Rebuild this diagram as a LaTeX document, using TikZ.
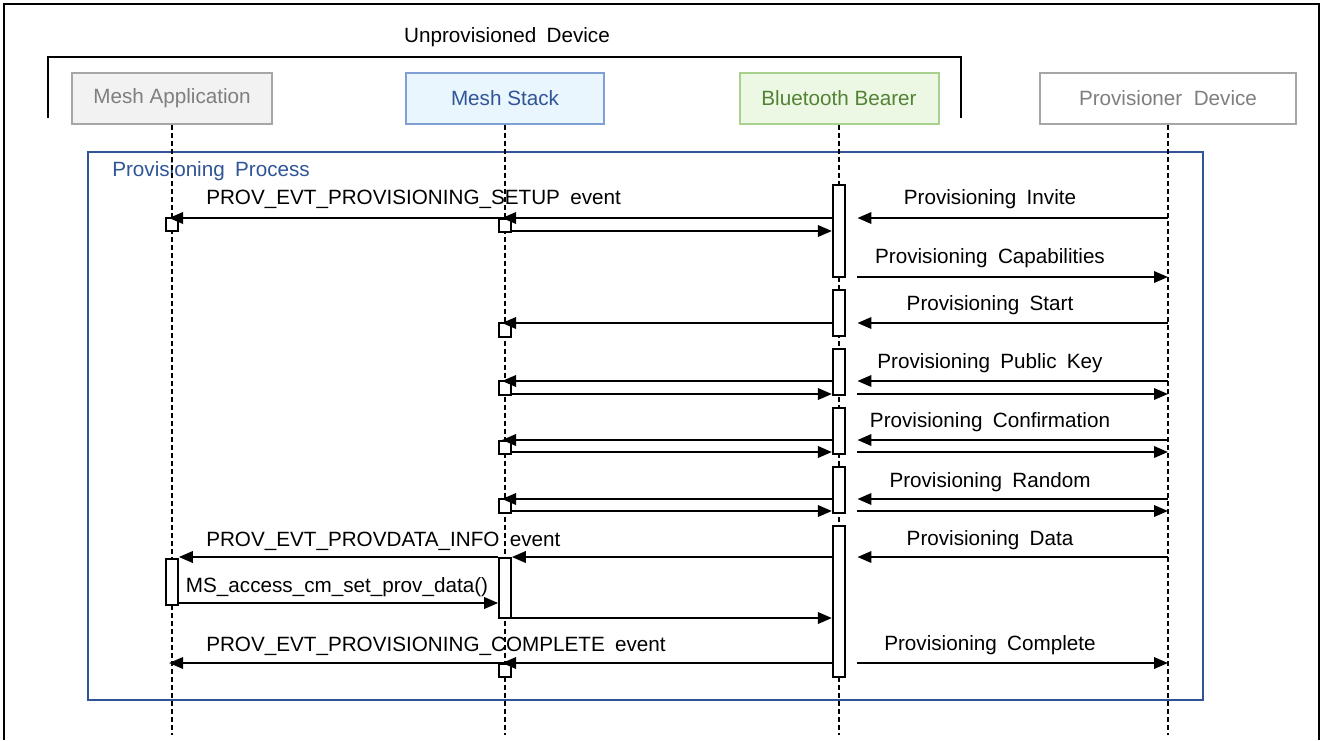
\documentclass[tikz,border=0pt]{standalone}
\usepackage{fontspec}
\setmainfont{Liberation Sans}[WordSpace=1.8]
\newfontfamily\headfont{Liberation Sans}
\usetikzlibrary{arrows.meta}
\definecolor{appfill}{HTML}{F2F2F2}
\definecolor{appdraw}{HTML}{A6A6A6}
\definecolor{apptext}{HTML}{7F7F7F}
\definecolor{stkfill}{HTML}{EAF6FE}
\definecolor{stkdraw}{HTML}{7F9FD5}
\definecolor{stktext}{HTML}{2F5597}
\definecolor{brfill}{HTML}{ECF8E4}
\definecolor{brdraw}{HTML}{A9D18E}
\definecolor{brtext}{HTML}{548235}
\definecolor{procblue}{HTML}{2F5597}
\begin{document}
\begin{tikzpicture}[x=0.75pt,y=-0.75pt,
  head/.style={draw, line width=1.5pt, minimum height=38.25pt, inner sep=0pt,
    font=\headfont\fontsize{15.5}{18}\selectfont},
  life/.style={line width=1.7pt, dash pattern=on 3.6pt off 2.4pt},
  bar/.style={draw, fill=white, line width=1.6pt, minimum width=9pt, inner sep=0pt},
  sq/.style={draw, fill=white, line width=1.6pt, minimum width=8.6pt, minimum height=10pt, inner sep=0pt},
  msg/.style={line width=1.8pt, -{Triangle[length=10.5pt,width=8.5pt]}},
  lbl/.style={font=\fontsize{15.5}{18}\selectfont, inner sep=0pt},
  frameline/.style={line width=2.2pt}]
\useasboundingbox (0,0) rectangle (1323,740);
% outer frame
\draw[frameline] (4,740) -- (4,4) -- (1319,4) -- (1319,740);
% unprovisioned device bracket
\draw[frameline] (48,118) -- (48,57) -- (961,57) -- (961,118);
\node[lbl] (unprov) at (507,37) {Unprovisioned Device};
% process frame
\draw[procblue, line width=1.6pt] (88,152) rectangle (1203,700);
\node[lbl, anchor=west, text=procblue] (proclbl) at (112,171) {Provisioning Process};
% heads
\node[head, draw=appdraw, fill=appfill, text=apptext, minimum width=150pt] (app) at (172,98.5) {Mesh Application};
\node[head, draw=stkdraw, fill=stkfill, text=stktext, minimum width=148.5pt] (stk) at (505,98.5) {Mesh Stack};
\node[head, draw=brdraw, fill=brfill, text=brtext, minimum width=149.25pt] (br) at (839,98.5) {Bluetooth Bearer};
\node[head, draw=appdraw, fill=white, text=apptext, minimum width=192pt] (prov) at (1168,98.5) {Provisioner\ \ Device};
% lifeline ends
\coordinate (appEnd) at (172,735);
\coordinate (stkEnd) at (505,735);
\coordinate (brEnd) at (839,735);
\coordinate (provEnd) at (1168,735);
\draw[life] (app.south) -- (appEnd);
\draw[life] (stk.south) -- (stkEnd);
\draw[life] (br.south) -- (brEnd);
\draw[life] (prov.south) -- (provEnd);
% activation bars on bearer
\node[bar, minimum height=69pt] (b1) at (839,231) {};
\node[bar, minimum height=34.5pt] (b2) at (839,313) {};
\node[bar, minimum height=34.5pt] (b3) at (839,372) {};
\node[bar, minimum height=34.5pt] (b4) at (839,431) {};
\node[bar, minimum height=34.5pt] (b5) at (839,490) {};
\node[bar, minimum height=113.25pt] (b6) at (839,601.5) {};
% stack squares/bars
\node[sq] (s1) at (505,225.5) {};
\node[sq] (s2) at (505,330) {};
\node[sq] (s3) at (505,388) {};
\node[sq] (s4) at (505,447.5) {};
\node[sq] (s5) at (505,506) {};
\node[bar, minimum width=8.6pt, minimum height=45pt] (s6) at (505,588) {};
\node[sq] (s7) at (505,670.5) {};
% app squares/bars
\node[sq] (a1) at (172,224.5) {};
\node[bar, minimum width=8.6pt, minimum height=34.5pt] (a2) at (172,582) {};
% y levels
\coordinate (y1) at (0,218);
\coordinate (y1b) at (0,231);
\coordinate (y2) at (0,277);
\coordinate (y3) at (0,323);
\coordinate (y4) at (0,381);
\coordinate (y4b) at (0,394);
\coordinate (y5) at (0,440);
\coordinate (y5b) at (0,452);
\coordinate (y6) at (0,499);
\coordinate (y6b) at (0,511);
\coordinate (y7) at (0,557);
\coordinate (y7b) at (0,603);
\coordinate (y7c) at (0,618);
\coordinate (y8) at (0,663);
% row 1: invite / setup
\draw[msg, shorten >=8.5pt] (prov.south |- y1) -- (b1.east |- y1);
\draw[msg, shorten >=-2.25pt] (b1.west |- y1) -- (s1.center |- y1);
\draw[msg, shorten >=-2.25pt] (s1.center |- y1) -- (a1.center |- y1);
\draw[msg] (s1.east |- y1b) -- (b1.west |- y1b);
\node[lbl, anchor=west] (l1) at (206,199) {PROV\_EVT\_PROVISIONING\_SETUP event};
\node[lbl] (r1) at (990,199) {Provisioning Invite};
% capabilities
\draw[msg, shorten <=8.5pt] (b1.east |- y2) -- (prov.south |- y2);
\node[lbl] (r2) at (990,258) {Provisioning Capabilities};
% start
\draw[msg, shorten >=8.5pt] (prov.south |- y3) -- (b2.east |- y3);
\draw[msg, shorten >=-2.25pt] (b2.west |- y3) -- (s2.center |- y3);
\node[lbl] (r3) at (990,305) {Provisioning Start};
% public key
\draw[msg, shorten >=8.5pt] (prov.south |- y4) -- (b3.east |- y4);
\draw[msg, shorten <=8.5pt] (b3.east |- y4b) -- (prov.south |- y4b);
\draw[msg, shorten >=-2.25pt] (b3.west |- y4) -- (s3.center |- y4);
\draw[msg] (s3.east |- y4b) -- (b3.west |- y4b);
\node[lbl] (r4) at (990,363) {Provisioning Public Key};
% confirmation
\draw[msg, shorten >=8.5pt] (prov.south |- y5) -- (b4.east |- y5);
\draw[msg, shorten <=8.5pt] (b4.east |- y5b) -- (prov.south |- y5b);
\draw[msg, shorten >=-2.25pt] (b4.west |- y5) -- (s4.center |- y5);
\draw[msg] (s4.east |- y5b) -- (b4.west |- y5b);
\node[lbl] (r5) at (990,422) {Provisioning Confirmation};
% random
\draw[msg, shorten >=8.5pt] (prov.south |- y6) -- (b5.east |- y6);
\draw[msg, shorten <=8.5pt] (b5.east |- y6b) -- (prov.south |- y6b);
\draw[msg, shorten >=-2.25pt] (b5.west |- y6) -- (s5.center |- y6);
\draw[msg] (s5.east |- y6b) -- (b5.west |- y6b);
\node[lbl] (r6) at (990,482) {Provisioning Random};
% data
\draw[msg, shorten >=8.5pt] (prov.south |- y7) -- (b6.east |- y7);
\draw[msg] (b6.west |- y7) -- (s6.east |- y7);
\draw[msg] (s6.west |- y7) -- (a2.east |- y7);
\node[lbl, anchor=west] (l7) at (206,541) {PROV\_EVT\_PROVDATA\_INFO event};
\node[lbl] (r7) at (990,540) {Provisioning Data};
\draw[msg] (a2.east |- y7b) -- (s6.west |- y7b);
\node[lbl] (l7b) at (337,587) {MS\_access\_cm\_set\_prov\_data()};
\draw[msg] (s6.east |- y7c) -- (b6.west |- y7c);
% complete
\draw[msg, shorten <=8.5pt] (b6.east |- y8) -- (prov.south |- y8);
\draw[msg, shorten >=-2.25pt] (b6.west |- y8) -- (s7.center |- y8);
\draw[msg, shorten >=-2.25pt] (s7.center |- y8) -- (app.south |- y8);
\node[lbl, anchor=west] (l8) at (206,646) {PROV\_EVT\_PROVISIONING\_COMPLETE event};
\node[lbl] (r8) at (990,645) {Provisioning Complete};
\end{tikzpicture}
\end{document}
